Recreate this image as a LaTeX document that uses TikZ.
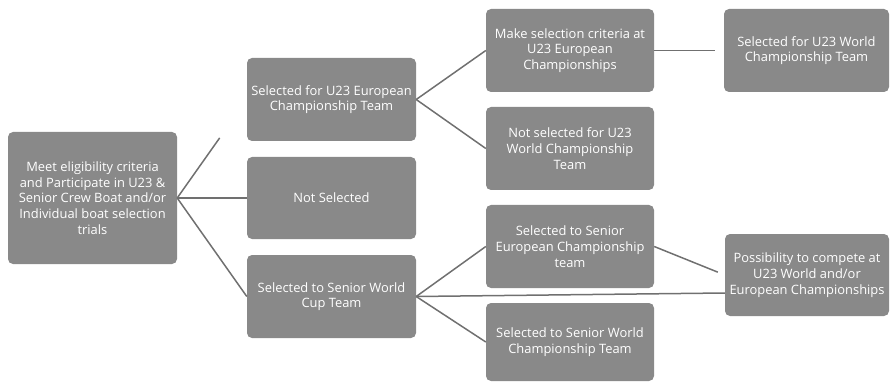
\documentclass[tikz,border=0pt]{standalone}
\usepackage{fontspec}
\setmainfont{Open Sans}
\usetikzlibrary{calc}
\definecolor{boxgray}{RGB}{137,137,137}
\definecolor{linegray}{RGB}{112,112,112}
\tikzset{
  box/.style={draw=none, fill=boxgray, rounded corners=5pt, text=white,
    align=center, inner sep=0pt, font=\fontsize{12.9}{15.7}\selectfont},
  conn/.style={draw=linegray, line width=1.5pt}
}
\begin{document}
\begin{tikzpicture}[x=1pt,y=-1pt]
\useasboundingbox (0,0) rectangle (891,382);
\node[box, minimum width=169pt, minimum height=132pt] (root) at (92.5,198)
  {Meet eligibility criteria\\and Participate in U23 \&\\Senior Crew Boat and/or\\Individual boat selection\\trials};
\node[box, minimum width=169pt, minimum height=83pt] (u23eu) at (331.5,99.5)
  {Selected for U23 European\\Championship Team};
\node[box, minimum width=169pt, minimum height=82pt] (notsel) at (331.5,198)
  {Not Selected};
\node[box, minimum width=169pt, minimum height=83pt] (wcup) at (331.5,296.5)
  {Selected to Senior World\\Cup Team};
\node[box, minimum width=168pt, minimum height=83pt] (make) at (570,50.5)
  {Make selection criteria at\\U23 European\\Championships};
\node[box, minimum width=168pt, minimum height=83pt] (notu23w) at (570,148.5)
  {Not selected for U23\\World Championship\\Team};
\node[box, minimum width=168pt, minimum height=83pt] (seneu) at (570,246.5)
  {Selected to Senior\\European Championship\\team};
\node[box, minimum width=168pt, minimum height=78pt] (senwc) at (570,342)
  {Selected to Senior World\\Championship Team};
\node[box, minimum width=165pt, minimum height=83pt] (selu23w) at (806.5,50.5)
  {Selected for U23 World\\Championship Team};
\node[box, minimum width=164pt, minimum height=82pt] (poss) at (807,275)
  {Possibility to compete at\\U23 World and/or\\European Championships};

\coordinate (possin) at ([yshift=-18pt]poss.west);
\draw[conn] (root.east) -- ($(root.east)!0.61!(u23eu.west)$);
\draw[conn] (root.east) -- (notsel.west);
\draw[conn] (root.east) -- (wcup.west);
\draw[conn] (u23eu.east) -- (make.west);
\draw[conn] (u23eu.east) -- (notu23w.west);
\draw[conn] (make.east) -- ($(make.east)!0.88!(selu23w.west)$);
\draw[conn] (wcup.east) -- (seneu.west);
\draw[conn] (wcup.east) -- (senwc.west);
\draw[conn] (wcup.east) -- (possin);
\draw[conn] (seneu.east) -- ($(seneu.east)!0.9!(poss.west)$);
\end{tikzpicture}
\end{document}
